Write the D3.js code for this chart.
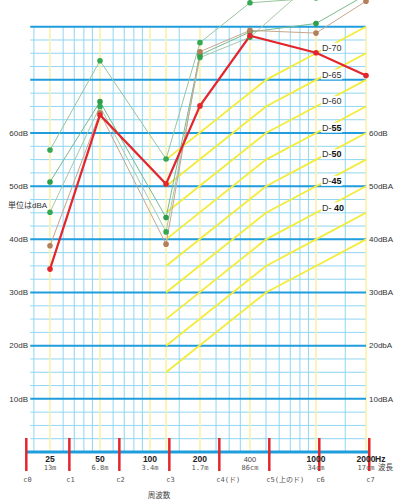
<!DOCTYPE html>
<html>
<head>
<meta charset="utf-8">
<script src="https://cdn.jsdelivr.net/npm/d3@7"></script>
<style>
  body { margin: 0; background: #fff; }
  svg { display: block; font-family: "Liberation Sans", "Noto Sans CJK JP", sans-serif; }
  .mono { font-family: "DejaVu Sans Mono", "Noto Sans CJK JP", monospace; }
</style>
</head>
<body>
<div id="chart"></div>
<script>
const d3 = window.d3;

// measured frequencies (Hz) and levels (dB)
const freqs = [25, 50, 125, 200, 400, 1000, 2000];
const redSeries = [34.4, 63.4, 50.4, 65.1, 78.3, 75.1, 70.8];
const brownSeries = [38.8, 63.8, 39.1, 75.3, 79.3, 78.8, 84.8];
const greenA = [56.8, 73.6, 55.1, 77.0, 84.5, 85.4, 88.0];
const greenB = [50.8, 65.9, 44.1, 74.7, 79.0, 80.6, 86.0];
const greenC = [45.1, 65.0, 41.4, 74.2, 78.0, 89.0, 92.0];

// D curves
const dLevels = [30, 35, 40, 45, 50, 55, 60, 65, 70];
const dFreqs = [125, 500, 1000, 2000];
const dOffsets = [-15, 0, 5, 10];
const dLabelLevels = [40, 45, 50, 55, 60, 65, 70];

// grid
const gridFreqs = [20, 30, 35, 40, 45, 60, 70, 80, 90, 150, 250, 300, 350, 500, 600, 700, 800, 900, 1500];
const markFreqs = [25, 50, 100, 125, 200, 400, 1000, 2000];

// axis labels
const leftTicks = [10, 20, 30, 40, 50, 60];
const leftLabels = ["10dB", "20dB", "30dB", "40dB", "50dB", "60dB"];
const rightLabels = ["10dBA", "20dbA", "30dBA", "40dBA", "50dBA", "60dB"];
const freqTicks = [25, 50, 100, 200, 400, 1000, 2000];
const freqLabels = ["25", "50", "100", "200", "400", "1000", "2000"];
const waveLabels = ["13m", "6.8m", "3.4m", "1.7m", "86cm", "34cm", "17cm"];
const cFreqs = [16.35, 32.7, 65.41, 130.81, 261.63, 523.25, 1046.5, 2093];
const cLabels = ["c0", "c1", "c2", "c3", "c4(ド)", "c5(上のド)", "c6", "c7"];

const width = 396;
const height = 500;

const x = d3.scaleLog().domain([25, 2000]).range([50, 366]);
const y = d3.scaleLinear().domain([0, 80]).range([452, 26.7]);
const dOffset = d3.scaleLog().domain(dFreqs).range(dOffsets);

const gridLeft = x(19);
const gridRight = x(2000);
const axisLeft = x(18);
const axisRight = x(2100);

const svg = d3.select("#chart").append("svg")
  .attr("width", width)
  .attr("height", height)
  .attr("viewBox", `0 0 ${width} ${height}`);

const gridLayer = svg.append("g");
const curveLayer = svg.append("g");
const labelLayer = svg.append("g");
const lineLayer = svg.append("g");
const dotLayer = svg.append("g");
const axisLayer = svg.append("g");

// thin horizontal lines every 2.5 dB
gridLayer.selectAll(".h-thin")
  .data(d3.range(2.5, 80, 2.5).filter((v) => v % 10 !== 0))
  .join("line")
  .attr("x1", gridLeft).attr("x2", gridRight)
  .attr("y1", (v) => y(v)).attr("y2", (v) => y(v))
  .attr("stroke", "#8fd6f2").attr("stroke-width", 1);

// vertical lines
gridLayer.selectAll(".v-thin")
  .data(gridFreqs)
  .join("line")
  .attr("x1", (f) => x(f)).attr("x2", (f) => x(f))
  .attr("y1", y(80)).attr("y2", y(0))
  .attr("stroke", "#8fd6f2").attr("stroke-width", 1);

gridLayer.selectAll(".v-mark")
  .data(markFreqs)
  .join("line")
  .attr("x1", (f) => x(f)).attr("x2", (f) => x(f))
  .attr("y1", y(80)).attr("y2", y(0))
  .attr("stroke", "#fbf1a6").attr("stroke-width", 1.6);

// thick horizontal lines every 10 dB
gridLayer.selectAll(".h-thick")
  .data(d3.range(10, 81, 10))
  .join("line")
  .attr("x1", gridLeft).attr("x2", gridRight)
  .attr("y1", (v) => y(v)).attr("y2", (v) => y(v))
  .attr("stroke", "#1f9ddd").attr("stroke-width", 2);

// D curves
const dLine = d3.line()
  .x((f) => x(f))
  .y((f, i, arr) => y(arr.level + dOffset(f)));

curveLayer.selectAll(".d-curve")
  .data(dLevels)
  .join("path")
  .attr("fill", "none")
  .attr("stroke", "#f3ec3c")
  .attr("stroke-width", 1.8)
  .attr("d", (level) => {
    const pts = dFreqs.slice();
    pts.level = level;
    return dLine(pts);
  });

// D labels
const labelFreq = 1150;
const dLabels = labelLayer.selectAll(".d-label")
  .data(dLabelLevels)
  .join("g")
  .attr("transform", (level) => `translate(${x(labelFreq) - 4},${y(level + dOffset(labelFreq))})`);

dLabels.append("rect")
  .attr("x", -1).attr("y", -5)
  .attr("width", 21).attr("height", 10)
  .attr("fill", "#fff");

dLabels.append("text")
  .attr("dy", "0.35em")
  .attr("font-size", 9)
  .attr("fill", "#333")
  .each(function (level) {
    const t = d3.select(this);
    const bold = level <= 55;
    t.append("tspan").text(level === 40 ? "D- " : "D-");
    t.append("tspan")
      .attr("font-weight", bold ? "bold" : "normal")
      .attr("fill", bold ? "#111" : "#333")
      .text(level);
  });

// series
const series = [
  { values: greenC, line: "#a6c9a6", dot: "#34a853" },
  { values: greenB, line: "#79b98f", dot: "#2f9e4a" },
  { values: greenA, line: "#97c59c", dot: "#34a853" },
  { values: brownSeries, line: "#c9a58c", dot: "#b2805c" },
  { values: redSeries, line: "#e3262c", dot: "#e3262c", width: 2.2 },
];

const valueLine = d3.line()
  .x((v, i) => x(freqs[i]))
  .y((v) => y(v));

lineLayer.selectAll(".series-line")
  .data(series)
  .join("path")
  .attr("fill", "none")
  .attr("stroke", (s) => s.line)
  .attr("stroke-width", (s) => s.width || 1)
  .attr("d", (s) => valueLine(s.values));

dotLayer.selectAll(".series-dots")
  .data(series)
  .join("g")
  .attr("fill", (s) => s.dot)
  .selectAll("circle")
  .data((s) => s.values)
  .join("circle")
  .attr("cx", (v, i) => x(freqs[i]))
  .attr("cy", (v) => y(v))
  .attr("r", 2.8);

// y labels
axisLayer.selectAll(".left-label")
  .data(leftTicks)
  .join("text")
  .attr("x", 28)
  .attr("y", (v) => y(v))
  .attr("dy", "0.35em")
  .attr("text-anchor", "end")
  .attr("font-size", 8)
  .attr("fill", "#333")
  .text((v, i) => leftLabels[i]);

axisLayer.selectAll(".right-label")
  .data(leftTicks)
  .join("text")
  .attr("x", 369)
  .attr("y", (v) => y(v))
  .attr("dy", "0.35em")
  .attr("font-size", 8)
  .attr("fill", "#333")
  .text((v, i) => rightLabels[i]);

axisLayer.append("text")
  .attr("x", 8).attr("y", 205).attr("dy", "0.35em")
  .attr("font-size", 8).attr("fill", "#333")
  .text("単位はdBA");

// bottom axis
axisLayer.append("line")
  .attr("x1", axisLeft).attr("x2", axisRight)
  .attr("y1", y(0)).attr("y2", y(0))
  .attr("stroke", "#1f9ddd").attr("stroke-width", 3);

axisLayer.selectAll(".c-mark")
  .data(cFreqs)
  .join("line")
  .attr("x1", (f) => Math.max(x(f), axisLeft))
  .attr("x2", (f) => Math.max(x(f), axisLeft))
  .attr("y1", 438).attr("y2", 471)
  .attr("stroke", "#e3262c").attr("stroke-width", 2.5);

axisLayer.selectAll(".freq-label")
  .data(freqTicks)
  .join("text")
  .attr("x", (f) => x(f))
  .attr("y", 459)
  .attr("dy", "0.35em")
  .attr("text-anchor", "middle")
  .attr("font-size", (f) => (f === 400 ? 7.5 : 8.5))
  .attr("font-weight", (f) => (f === 400 ? "normal" : "bold"))
  .attr("fill", (f) => (f === 400 ? "#444" : "#222"))
  .text((f, i) => freqLabels[i]);

axisLayer.append("text")
  .attr("x", x(2000) + 9).attr("y", 459).attr("dy", "0.35em")
  .attr("font-size", 8.5).attr("font-weight", "bold").attr("fill", "#222")
  .text("Hz");

axisLayer.selectAll(".wave-label")
  .data(freqTicks)
  .join("text")
  .attr("class", "mono")
  .attr("x", (f) => x(f))
  .attr("y", 467.5)
  .attr("dy", "0.35em")
  .attr("text-anchor", "middle")
  .attr("font-size", 7)
  .attr("fill", "#555")
  .text((f, i) => waveLabels[i]);

axisLayer.append("text")
  .attr("x", 378).attr("y", 467.5).attr("dy", "0.35em")
  .attr("font-size", 7.5).attr("fill", "#444")
  .text("波長");

axisLayer.selectAll(".c-label")
  .data(cFreqs)
  .join("text")
  .attr("class", "mono")
  .attr("x", (f) => Math.max(x(f), axisLeft) - 3)
  .attr("y", 480)
  .attr("dy", "0.35em")
  .attr("font-size", 7)
  .attr("fill", "#555")
  .text((f, i) => cLabels[i]);

axisLayer.append("text")
  .attr("x", 159).attr("y", 495).attr("dy", "0.35em")
  .attr("text-anchor", "middle")
  .attr("font-size", 7.5).attr("fill", "#444")
  .text("周波数");
</script>
</body>
</html>
